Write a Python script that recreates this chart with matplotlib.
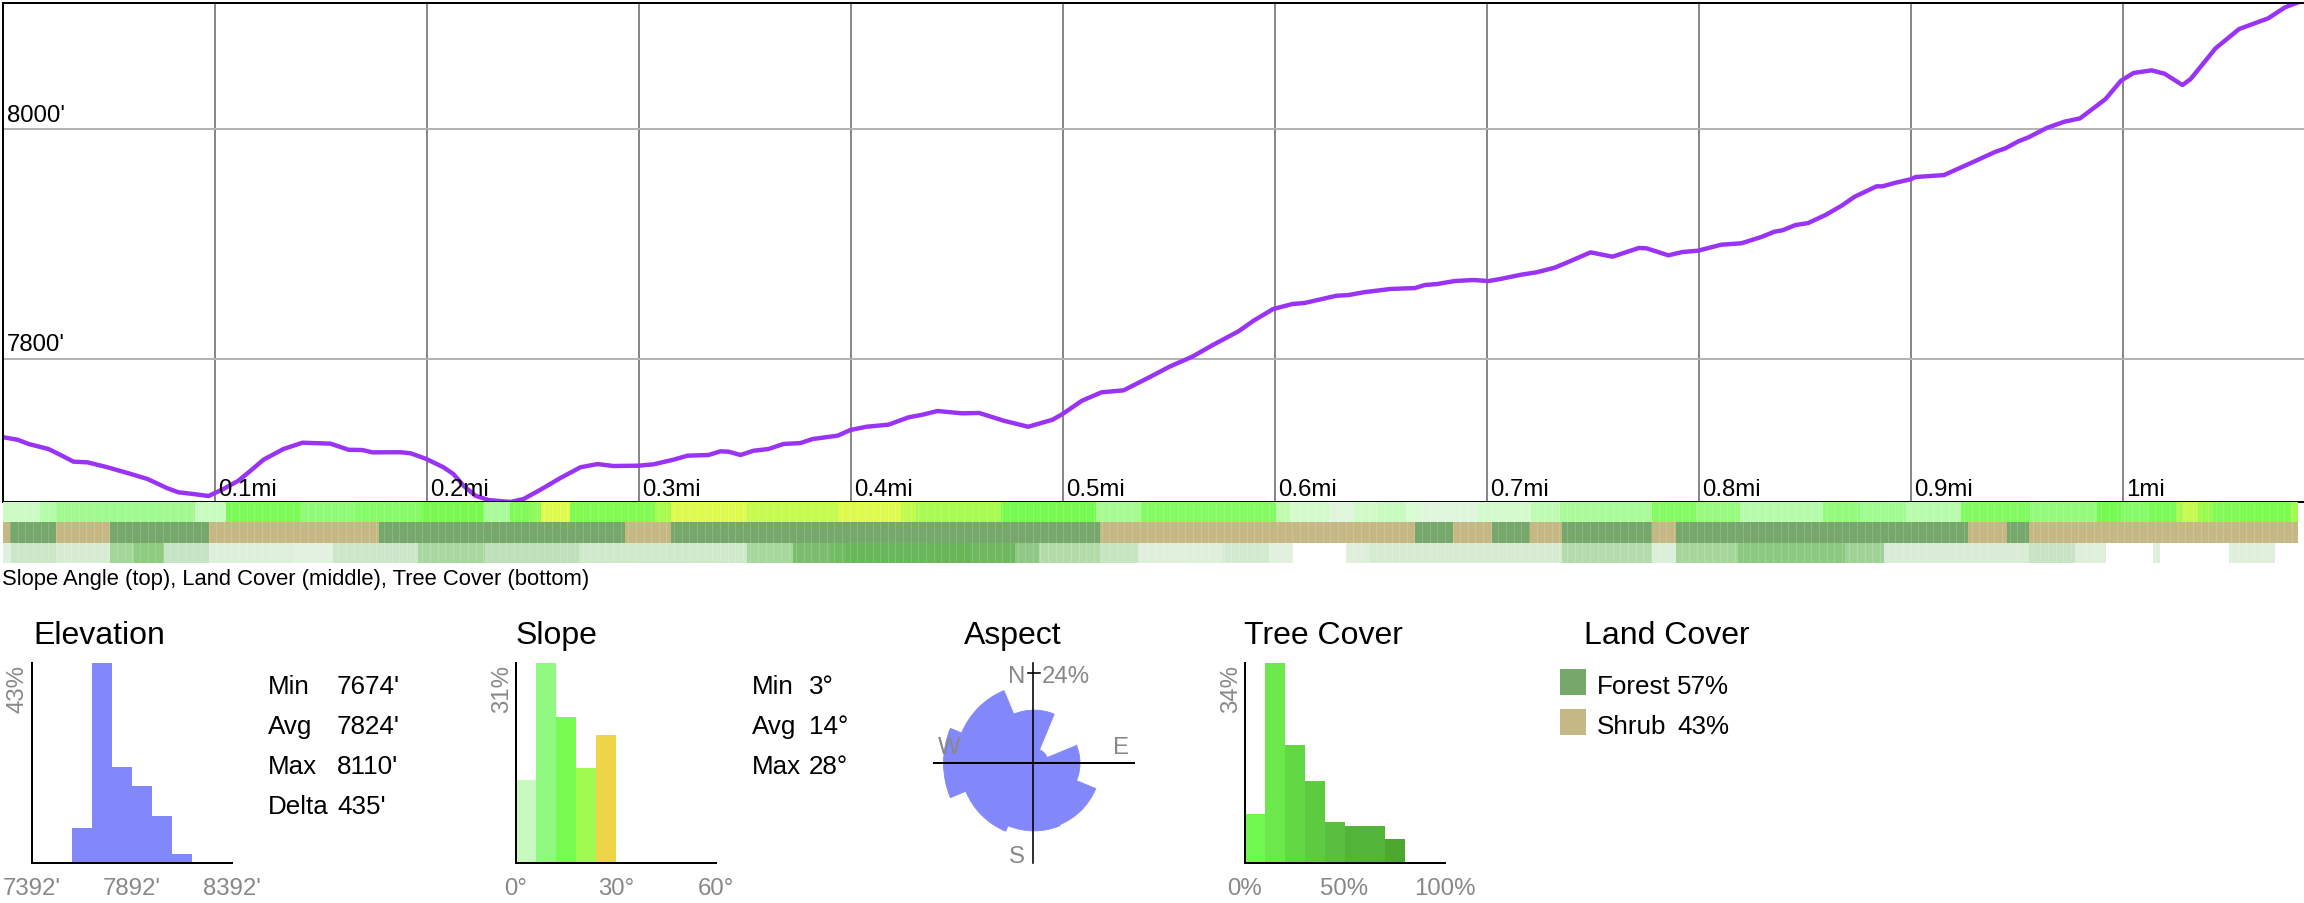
import numpy as np
import matplotlib
matplotlib.use("Agg")
import matplotlib.pyplot as plt
from matplotlib.patches import Rectangle

plt.rcParams["font.family"] = ["Liberation Sans", "DejaVu Sans"]

# Elevation profile, miles and feet
profile_miles = [
    .0005, .0071, .0123, .0217, .0274, .0335, .0401, .0495, .0590, .0684, .0778, .0830, .0901, .0972,
    .1042, .1113, .1170, .1231, .1325, .1415, .1547, .1632, .1698, .1745, .1877, .1925, .2000, .2080,
    .2127, .2175, .2231, .2292, .2396, .2458, .2538, .2632, .2726, .2807, .2882, .3000, .3071, .3165,
    .3231, .3330, .3387, .3425, .3481, .3542, .3613, .3684, .3764, .3821, .3939, .4000, .4075, .4179,
    .4274, .4340, .4410, .4526, .4607, .4722, .4838, .4953, .5000, .5092, .5184, .5288, .5415, .5508,
    .5612, .5703, .5830, .5901, .5993, .6085, .6142, .6292, .6349, .6420, .6547, .6663, .6708, .6767,
    .6849, .6939, .7009, .7066, .7163, .7236, .7321, .7382, .7491, .7594, .7719, .7755, .7858, .7925,
    .7997, .8106, .8203, .8300, .8358, .8396, .8458, .8517, .8602, .8675, .8736, .8840, .8868, .8929,
    .9000, .9024, .9158, .9292, .9401, .9448, .9509, .9557, .9642, .9726, .9800, .9920, .9993, 1.0052,
    1.0137, 1.0198, 1.0283, 1.0321, 1.0439, 1.0550, 1.0687, 1.0767, 1.0828,
]
profile_feet = [
    7731.5, 7729.4, 7725.7, 7721.3, 7716.1, 7710.3, 7709.7, 7705.4, 7700.4, 7695.2, 7687.1, 7683.6, 7682.1, 7680.4,
    7686.5, 7693.7, 7702.4, 7712.0, 7721.3, 7726.8, 7726.0, 7720.7, 7720.4, 7718.4, 7718.5, 7717.6, 7712.6, 7705.4,
    7699.5, 7689.3, 7680.6, 7676.9, 7675.2, 7677.8, 7685.9, 7696.1, 7705.4, 7708.2, 7706.5, 7706.8, 7708.0, 7712.0,
    7715.5, 7716.1, 7719.3, 7719.0, 7716.1, 7719.8, 7721.3, 7725.7, 7726.5, 7730.0, 7732.9, 7737.9, 7740.7, 7742.5,
    7748.9, 7751.2, 7754.4, 7752.4, 7752.7, 7746.0, 7740.7, 7746.8, 7751.8, 7763.4, 7770.7, 7772.4, 7784.3, 7793.3,
    7801.7, 7811.3, 7823.8, 7833.0, 7843.2, 7847.6, 7848.5, 7854.8, 7855.4, 7857.8, 7860.7, 7861.5, 7864.1, 7865.0,
    7867.6, 7868.5, 7867.6, 7869.4, 7873.1, 7875.2, 7879.2, 7883.9, 7892.6, 7888.8, 7896.4, 7896.1, 7890.0, 7892.9,
    7894.0, 7899.2, 7900.5, 7906.2, 7910.6, 7911.8, 7916.4, 7918.1, 7925.4, 7933.2, 7941.0, 7950.1, 7950.1, 7953.2,
    7956.2, 7958.2, 7959.9, 7971.0, 7980.2, 7983.2, 7989.3, 7992.8, 8000.9, 8006.4, 8009.3, 8026.1, 8042.1, 8048.8,
    8051.1, 8048.2, 8038.3, 8043.5, 8070.3, 8087.1, 8096.4, 8106.0, 8110.3,
]
mile_ticks = [.1, .2, .3, .4, .5, .6, .7, .8, .9, 1.0]
mile_labels = ["0.1mi", "0.2mi", "0.3mi", "0.4mi", "0.5mi", "0.6mi", "0.7mi", "0.8mi", "0.9mi", "1mi"]
feet_ticks = [7800, 8000]
feet_labels = ["7800'", "8000'"]

# Strips under the profile: where each run of one colour ends (miles), and its colour
slope_ends = [
    .0179, .0250, .0910, .1052, .1406, .1665, .1972, .2269, .2396, .2491, .2538, .2679, .3080, .3151, .3514, .3943,
    .4236, .4311, .4708, .5156, .5368, .6009, .6075, .6264, .6373, .6486, .6618, .6698, .6953, .7208, .7349, .7783,
    .7986, .8198, .8585, .8764, .8981, .9236, .9566, .9882, .9991, 1.0132, 1.0250, 1.0283, 1.0358, 1.0429, 1.0557,
    1.0792, 1.0830,
]
slope_colors = [
    "#ccfcc4", "#b4fbaa", "#a0fa90", "#c8fbc0", "#7cfb58", "#90fb78", "#88fb68", "#78fa50", "#a8fb98", "#80fa58",
    "#90fb5c", "#e0fb50", "#80fb52", "#a8fb50", "#e0fb50", "#c4fb50", "#e0fb50", "#c0fb50", "#a8fb50", "#78fb50",
    "#a8fb90", "#84fb62", "#c0fbb0", "#d4fbcc", "#e0f6dc", "#d0fbc8", "#c8fbc0", "#d8fbd2", "#e0f6dc", "#d4fbcc",
    "#c0fbb4", "#a8fb98", "#84fb64", "#98fb80", "#b6fbaa", "#94fb7c", "#a0fb90", "#b8fbac", "#82fb60", "#94fb7c",
    "#74fa50", "#88fb68", "#7cfb58", "#a8fb50", "#c4fb50", "#9cfb50", "#80fb58", "#7cfb50", "#a0fb50",
]
forest = "#76a86c"
shrub = "#c6b884"
land_ends = [
    .0036, .0252, .0509, .0976, .1774, .2934, .3151, .5179, .6665, .6844, .7028, .7203, .7354, .7783, .7896, .9269,
    .9453, .9561, 1.0830,
]
land_colors = [
    shrub, forest, shrub, forest, shrub, forest, shrub, forest, shrub, forest, shrub, forest, shrub, forest, shrub,
    forest, shrub, forest, shrub,
]
tree_ends = [
    .0038, .0250, .0509, .0618, .0764, .0976, .1377, .1557, .1958, .2278, .2717, .3514, .3731, .3906, .3981, .4382,
    .4566, .4778, .4887, .5179, .5358, .5759, .5976, .6085, .6335, .6448, .7354, .7783, .7896, .8184, .8689, .8873,
    .9561, .9778, .9920, 1.0142, 1.0175, 1.0500, 1.0717, 1.0830,
]
tree_colors = [
    "#e0f0e0", "#cce6c8", "#d8ecd4", "#a4d69a", "#8fcb80", "#c8e4c6", "#deefdc", "#e2f1e0", "#cde6ca", "#a8d89f",
    "#bfe0ba", "#d0e9cc", "#a6d79c", "#7cbd70", "#72bc62", "#6ab85c", "#69b558", "#6eb860", "#8fc985", "#b3dbaa",
    "#c6e4c0", "#e0efdc", "#d4ead0", "#e2f0de", "#ffffff", "#e0efdc", "#d6ebd2", "#b4dbac", "#dcefd8", "#a6d69c",
    "#8cc980", "#a0d298", "#daecd6", "#c8e4c4", "#e0efdc", "#ffffff", "#e0efdc", "#ffffff", "#e0efdc", "#ffffff",
]

# Histograms, percent per bin
elev_bins = [7592, 7692, 7792, 7892, 7992, 8092]
elev_pct = [7.6, 43, 20.6, 16.6, 10, 2]
slope_bins = [0, 6, 12, 18, 24]
slope_pct = [12.8, 31, 22.6, 14.8, 19.9]
slope_bar_colors = ["#c8fac0", "#90fa80", "#78fa50", "#a0fa50", "#f0d448"]
tree_bins = [0, 10, 20, 30, 40, 50, 60, 70]
tree_pct = [8.3, 34, 20, 14, 6.9, 6.3, 6.3, 4]
tree_bar_colors = ["#70f850", "#6ce84c", "#62d845", "#5ccb40", "#58c03e", "#52b53a", "#52b53a", "#4da832"]

# Aspect rose: compass bearing and share of the route
aspect_deg = [0, 45, 90, 135, 180, 225, 270, 315]
aspect_pct = [8.2, .6, 6.2, 13.1, 13.5, 16, 24, 18]

elev_stats = [("Min", "7674'"), ("Avg", "7824'"), ("Max", "8110'"), ("Delta", "435'")]
slope_stats = [("Min", "3°"), ("Avg", "14°"), ("Max", "28°")]

W, H = 2304, 904
GRAY = "#888888"
BAR_BLUE = "#8287fa"
PX = 0.72  # one pixel in points at dpi 100

fig = plt.figure(figsize=(W / 100, H / 100), dpi=100, facecolor="white")


def px_axes(x0, y0, x1, y1, **kw):
    return fig.add_axes([x0 / W, 1 - y1 / H, (x1 - x0) / W, (y1 - y0) / H], **kw)


# Main profile
ax = px_axes(2.5, 4.3, W, 503.3)
ax.set_xlim(0, (W - 2.5) / 2120)
ax.set_ylim(7674.9, 8109.5)
ax.set_xticks(mile_ticks)
ax.set_yticks(feet_ticks)
ax.set_xticklabels([])
ax.set_yticklabels([])
ax.tick_params(length=0)
ax.xaxis.grid(True, color=GRAY, lw=2 * PX)
ax.yaxis.grid(True, color="#b4b4b4", lw=2 * PX)
ax.set_axisbelow(True)
ax.spines["right"].set_visible(False)
for s in ["left", "top", "bottom"]:
    ax.spines[s].set_linewidth(2 * PX)
ax.plot(profile_miles, profile_feet, color="#9933f5", lw=4.4 * PX, solid_joinstyle="round")
for m, lab in zip(mile_ticks, mile_labels):
    ax.annotate(lab, (m, 7674.9), xytext=(4 * PX, 13.5 * PX), textcoords="offset points",
                fontsize=24 * PX, va="center", ha="left", color="black")
for f, lab in zip(feet_ticks, feet_labels):
    ax.annotate(lab, (0, f), xytext=(4 * PX, 14.5 * PX), textcoords="offset points",
                fontsize=24 * PX, va="center", ha="left", color="black")

# Slope / land cover / tree cover strips
st = px_axes(2.5, 503.3, W, 563.7)
st.set_xlim(0, (W - 2.5) / 2120)
st.set_ylim(3, 0)
st.axis("off")
for row, (ends, cols) in enumerate([(slope_ends, slope_colors), (land_ends, land_colors), (tree_ends, tree_colors)]):
    lefts = [0] + ends[:-1]
    widths = [e - l for e, l in zip(ends, lefts)]
    st.barh(row + .5, widths, left=lefts, height=1, color=cols, lw=0)
# faint seams between the cells of the strips
st.vlines(np.arange(.0036, 1.083, .0036), 0, 3, color="white", alpha=.16, lw=.7)


# Elevation histogram
def hist_axes(x0, xlim, ticks, labels):
    a = px_axes(x0, 664, x0 + 200, 864)
    a.set_xlim(*xlim)
    a.set_xticks(ticks)
    a.set_xticklabels(labels, fontsize=24 * PX, color=GRAY)
    a.set_yticks([])
    a.tick_params(length=0, pad=14 * PX)
    for s in ["top", "right"]:
        a.spines[s].set_visible(False)
    for s in ["left", "bottom"]:
        a.spines[s].set_linewidth(2 * PX)
    return a


a1 = hist_axes(32, (7392, 8392), [7392, 7892, 8392], ["7392'", "7892'", "8392'"])
a1.bar(elev_bins, elev_pct, width=100, align="edge", color=BAR_BLUE, lw=0)
a1.set_ylim(0, 43)

a2 = hist_axes(516, (0, 60), [0, 30, 60], ["0°", "30°", "60°"])
a2.bar(slope_bins, slope_pct, width=6, align="edge", color=slope_bar_colors, lw=0)
a2.set_ylim(0, 31)

a3 = hist_axes(1244.5, (0, 100), [0, 50, 100], ["0%", "50%", "100%"])
a3.bar(tree_bins, tree_pct, width=10, align="edge", color=tree_bar_colors, lw=0)
a3.set_ylim(0, 34)

# Aspect rose
rose = px_axes(934, 664, 1134, 864, projection="polar")
rose.set_theta_zero_location("N")
rose.set_theta_direction(-1)
rose.bar(np.deg2rad(aspect_deg), np.sqrt(aspect_pct), width=np.pi / 4, color=BAR_BLUE,
         edgecolor=BAR_BLUE, lw=.6)
rose.set_ylim(0, np.sqrt(24) * 100 / 90.5)
rose.axis("off")

# Pixel overlay for the loose text and the rose cross
ov = fig.add_axes([0, 0, 1, 1], zorder=5)
ov.set_xlim(0, W)
ov.set_ylim(H, 0)
ov.axis("off")

ov.text(2, 579.5, "Slope Angle (top), Land Cover (middle), Tree Cover (bottom)", fontsize=22 * PX, va="center")

for x, t in [(33, "Elevation"), (516, "Slope"), (1244.5, "Tree Cover"), (1584, "Land Cover")]:
    ov.text(x, 636.5, t, fontsize=32 * PX, va="center", ha="left")
ov.text(1013, 636.5, "Aspect", fontsize=32 * PX, va="center", ha="center")

for x, t in [(18, "43%"), (502, "31%"), (1231, "34%")]:
    ov.text(x, 665, t, fontsize=24 * PX, color=GRAY, rotation=90, va="top", ha="center")

for i, (k, v) in enumerate(elev_stats):
    ov.text(268, 687.5 + 40 * i, k, fontsize=26 * PX, va="center")
    ov.text(337, 687.5 + 40 * i, v, fontsize=26 * PX, va="center")
for i, (k, v) in enumerate(slope_stats):
    ov.text(752, 687.5 + 40 * i, k, fontsize=26 * PX, va="center")
    ov.text(809, 687.5 + 40 * i, v, fontsize=26 * PX, va="center")

ov.plot([934, 1134], [763.7, 763.7], color="black", lw=2 * PX)
ov.plot([1033.4, 1033.4], [664, 864], color="black", lw=1.6 * PX)
ov.plot([1028, 1040], [673.5, 673.5], color="black", lw=1.6 * PX)
for x, y, t, ha in [(1017, 677, "N", "center"), (1042, 677, "24%", "left"), (949, 748, "W", "center"),
                    (1121, 748, "E", "center"), (1017, 857, "S", "center")]:
    ov.text(x, y, t, fontsize=24 * PX, color=GRAY, va="center", ha=ha)

for y, c, name, pct in [(670, forest, "Forest", "57%"), (710, shrub, "Shrub", "43%")]:
    ov.add_patch(Rectangle((1560, y), 26, 26, color=c, lw=0))
    ov.text(1597, y + 17.5, name, fontsize=26 * PX, va="center")
    ov.text(1677, y + 17.5, pct, fontsize=26 * PX, va="center")

fig.savefig("out.png", dpi=100)
